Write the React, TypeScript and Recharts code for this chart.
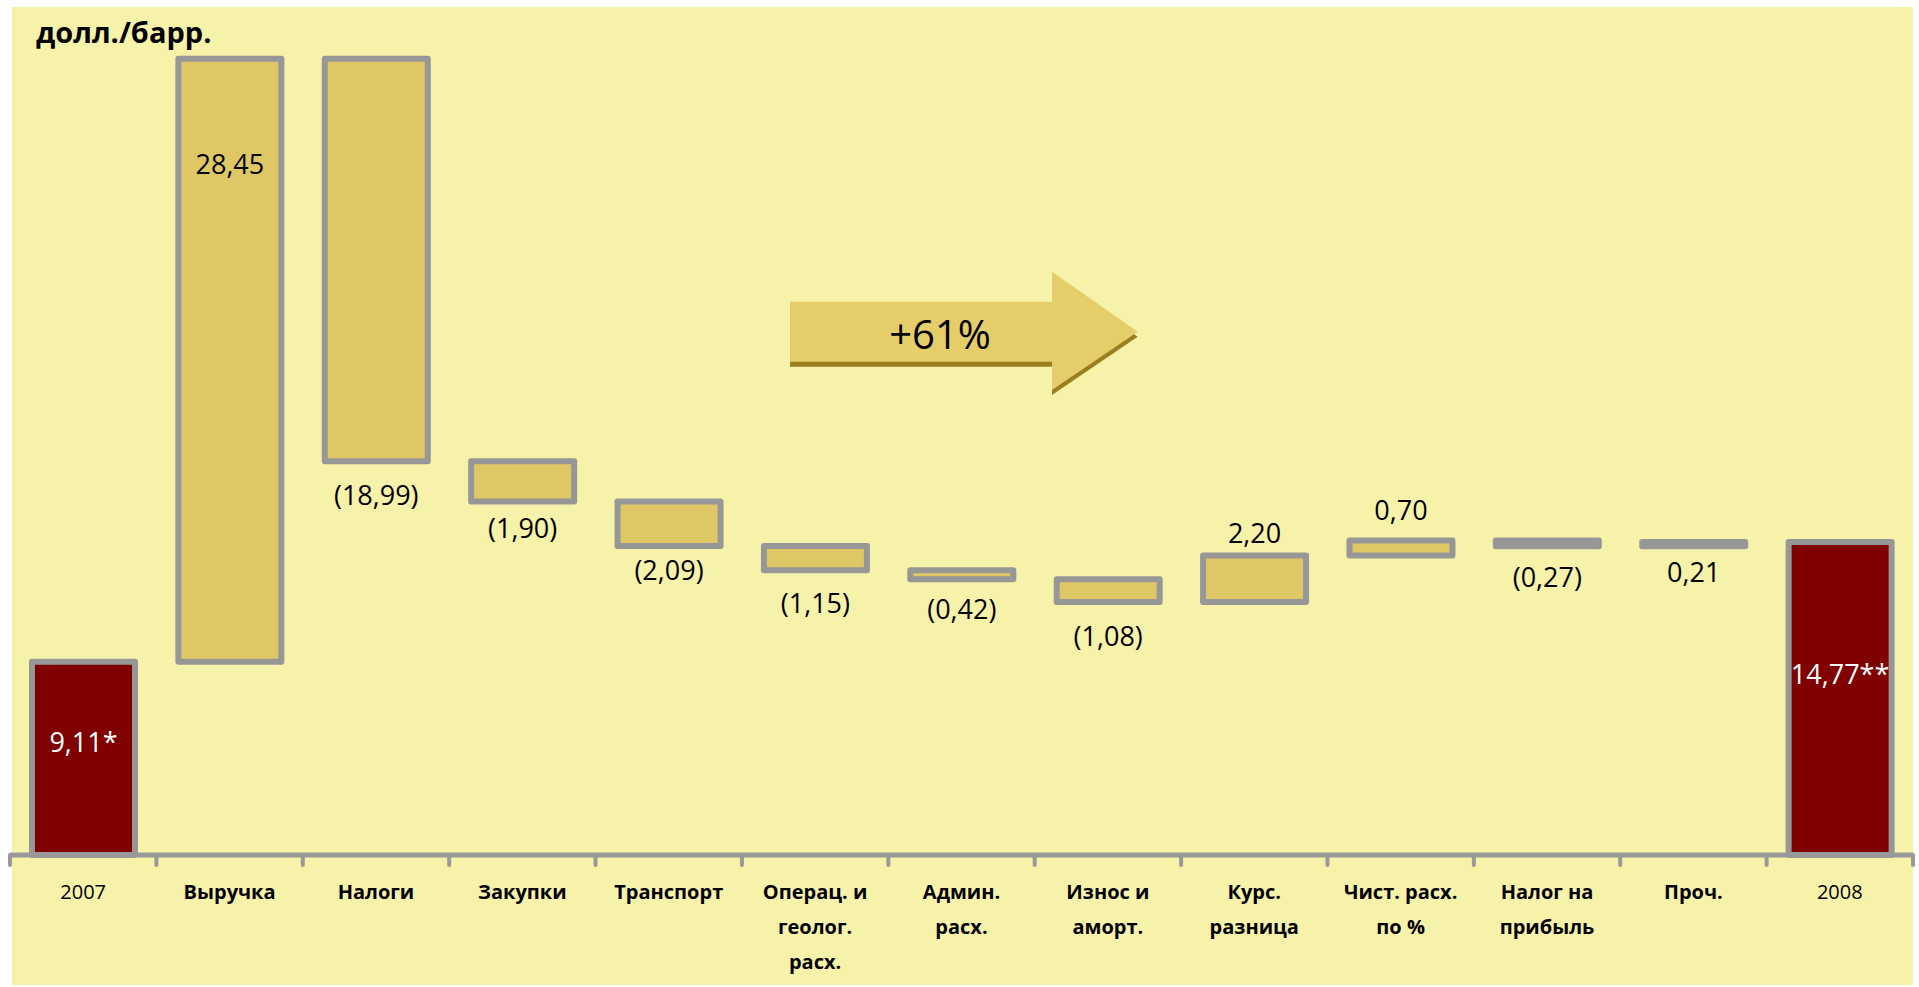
import React from 'react';
import { ComposedChart, Bar, XAxis, YAxis, Cell, LabelList } from 'recharts';

const categories = [
  '2007',
  'Выручка',
  'Налоги',
  'Закупки',
  'Транспорт',
  'Операц. и\nгеолог.\nрасх.',
  'Админ.\nрасх.',
  'Износ и\nаморт.',
  'Курс.\nразница',
  'Чист. расх.\nпо %',
  'Налог на\nприбыль',
  'Проч.',
  '2008',
];
const changes = [9.11, 28.45, -18.99, -1.9, -2.09, -1.15, -0.42, -1.08, 2.2, 0.7, -0.27, 0.21, 14.77];
const isTotal = [true, false, false, false, false, false, false, false, false, false, false, false, true];
const labelSuffix = ['*', '', '', '', '', '', '', '', '', '', '', '', '**'];
const labelPlacement = ['inside', 'top', 'below', 'below', 'below', 'below', 'below', 'below', 'above', 'above', 'below', 'below', 'inside'];
const labelOffset = [0.41, 105, 33, 26, 24, 32, 29, 33, 23, 31, 30, 25, 0.42];
const unitLabel = 'долл./барр.';
const arrowText = '+61%';

const data = (() => {
  let running = 0;
  return categories.map((name, i) => {
    const v = changes[i];
    if (isTotal[i]) {
      running = v;
      return { name, base: 0, delta: v, idx: i };
    }
    const start = running;
    const end = running + v;
    running = end;
    return { name, base: Math.min(start, end), delta: Math.abs(v), idx: i };
  });
})();

const fmt = (i: number) => {
  const v = changes[i];
  const s = Math.abs(v).toFixed(2).replace('.', ',');
  return (v < 0 ? `(${s})` : s) + labelSuffix[i];
};

const FONT = '"Open Sans", "Noto Sans", sans-serif';

const ValueLabel = (props: any) => {
  const { x, y, width, height, index } = props;
  const i = index;
  const cx = x + width / 2;
  const place = labelPlacement[i];
  let cy = y;
  let fill = '#000';
  if (place === 'inside') {
    cy = y + height * labelOffset[i];
    fill = '#fff';
  } else if (place === 'top') {
    cy = y + labelOffset[i];
  } else if (place === 'below') {
    cy = y + height + labelOffset[i];
  } else {
    cy = y - labelOffset[i];
  }
  return (
    <text x={cx} y={cy} textAnchor="middle" dominantBaseline="central" fontFamily={FONT} fontSize={27} fill={fill}>
      {fmt(i)}
    </text>
  );
};

const CatTick = (props: any) => {
  const { x, y, payload } = props;
  const idx = payload?.index ?? props.index ?? 0;
  const half = payload?.offset ?? 73.2;
  const lines = String(payload.value).split('\n');
  const bold = !isTotal[idx];
  return (
    <g>
      <line x1={x - half} x2={x - half} y1={y} y2={y + 10} stroke="#999999" strokeWidth={4} strokeLinecap="round" />
      {idx === categories.length - 1 && (
        <line x1={x + half} x2={x + half} y1={y} y2={y + 10} stroke="#999999" strokeWidth={4} strokeLinecap="round" />
      )}
      <text textAnchor="middle" fontFamily={FONT} fontSize={20} fontWeight={bold ? 700 : 400} fill="#000">
        {lines.map((l, k) => (
          <tspan key={k} x={x} y={y + 36 + k * 35} dominantBaseline="central">
            {l}
          </tspan>
        ))}
      </text>
    </g>
  );
};

export default function App() {
  return (
    <div style={{ position: 'absolute', left: 0, top: 0, width: 1919, height: 987, background: '#ffffff' }}>
      <div style={{ position: 'absolute', left: 12, top: 7, width: 1901, height: 978, background: '#F7F2AA' }} />
      <div style={{ position: 'absolute', left: 0, top: 0 }}>
        <ComposedChart width={1919} height={987} data={data} margin={{ top: 7, right: 6, bottom: 12, left: 10 }}>
          <XAxis
            dataKey="name"
            interval={0}
            height={120}
            tickSize={0}
            tickMargin={0}
            tickLine={false}
            axisLine={{ stroke: '#999999', strokeWidth: 5 }}
            tick={<CatTick />}
          />
          <YAxis hide domain={[0, 40]} />
          <Bar dataKey="base" stackId="a" fill="transparent" stroke="none" barSize={103} isAnimationActive={false} />
          <Bar
            dataKey="delta"
            stackId="a"
            barSize={103}
            stroke="#979797"
            strokeWidth={6}
            strokeLinejoin="round"
            isAnimationActive={false}
          >
            {data.map((d, i) => (
              <Cell key={i} fill={isTotal[i] ? '#800000' : '#DFC765'} />
            ))}
            <LabelList dataKey="delta" content={<ValueLabel />} />
          </Bar>
        </ComposedChart>
      </div>
      <svg style={{ position: 'absolute', left: 0, top: 0 }} width={1919} height={987}>
        <text x={36} y={43} fontFamily={FONT} fontSize={29} fontWeight={700} fill="#000">
          {unitLabel}
        </text>
        <polygon
          points="790,306.7 1052,306.7 1052,276.7 1137.7,336.7 1052,395 1052,366.7 790,366.7"
          fill="#9B7F1F"
        />
        <polygon
          points="790,301.7 1052,301.7 1052,271.7 1137.7,331.7 1052,390 1052,361.7 790,361.7"
          fill="#E5CD6A"
        />
        <text x={940} y={333} textAnchor="middle" dominantBaseline="central" fontFamily={FONT} fontSize={40} fill="#000">
          {arrowText}
        </text>
      </svg>
    </div>
  );
}
